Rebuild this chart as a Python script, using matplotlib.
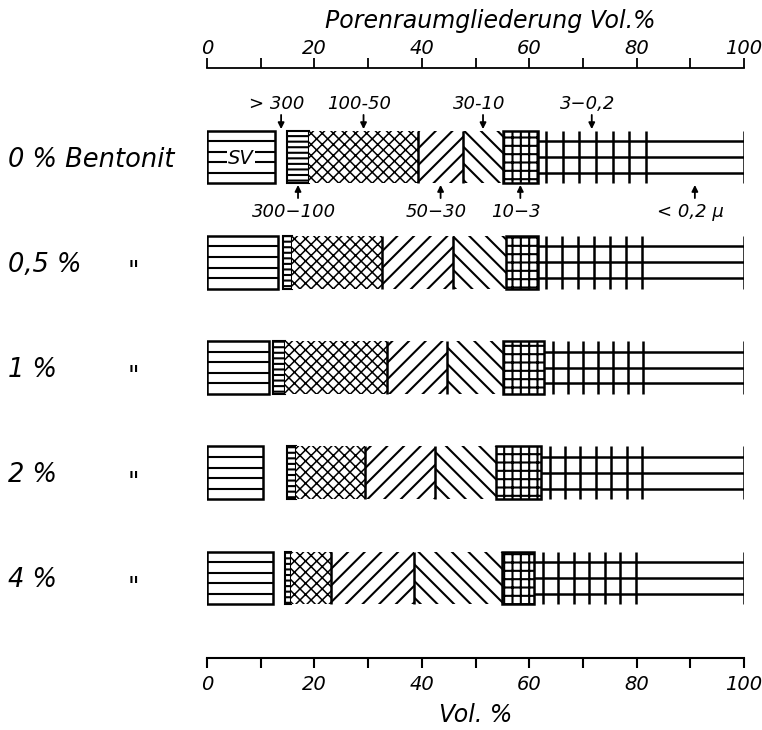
import numpy as np
import matplotlib.pyplot as plt
import matplotlib.transforms as mtransforms
from matplotlib.patches import Rectangle

# Porenraumgliederung (Vol.%) per Bentonit-Zusatz, classes in micron
rows = ["0 % Bentonit", "0,5 %", "1 %", "2 %", "4 %"]
ditto = [False, True, True, True, True]

sv = [12.7, 13.2, 11.5, 10.4, 12.2]          # SV
p_gt300 = [2.2, 1.0, 0.8, 4.5, 2.4]           # > 300
p300_100 = [4.1, 1.6, 2.2, 1.7, 1.0]          # 300-100
p100_50 = [20.3, 16.8, 19.0, 12.8, 7.5]       # 100-50
p50_30 = [8.4, 13.2, 11.2, 13.1, 15.4]        # 50-30
p30_10 = [7.4, 9.9, 10.4, 11.3, 16.4]         # 30-10
p10_3 = [6.5, 5.9, 7.7, 8.4, 6.0]             # 10-3
p3_02 = [20.1, 19.4, 18.4, 18.8, 18.9]        # 3-0,2
p_lt02 = [18.3, 19.0, 18.8, 19.0, 20.2]       # < 0,2

# class labels on the first bar
top_classes = [1, 3, 5, 7]
top_texts = ["> 300", "100-50", "30-10", "3\u22120,2"]
bottom_classes = [2, 4, 6, 8]
bottom_texts = ["300\u2212100", "50\u221230", "10\u22123", "< 0,2 \u03bc"]

plt.rcParams['font.family'] = 'DejaVu Sans'
plt.rcParams['font.style'] = 'italic'
plt.rcParams['hatch.linewidth'] = 1.5
plt.rcParams['hatch.color'] = 'black'

H = 0.5      # bar height (row units)
LW = 1.8

fig = plt.figure(figsize=(7.62, 7.30), dpi=100)
ax = fig.add_axes([207 / 762, 1 - 658 / 730, 537 / 762, 590 / 730])
ax.set_xlim(0, 100)
ax.set_ylim(4.76, -0.846)

for i in range(len(rows)):
    widths = np.array([sv[i], p_gt300[i], p300_100[i], p100_50[i], p50_30[i],
                       p30_10[i], p10_3[i], p3_02[i], p_lt02[i]])
    edges = np.concatenate([[0], np.cumsum(widths)])
    y0 = i - H / 2

    # SV: box with horizontal bands
    ax.add_patch(Rectangle((edges[0], y0), widths[0], H, fc='white', ec='k', lw=LW, zorder=2))
    ax.hlines(i + H * np.array([-0.3, -0.1, 0.1, 0.3]), edges[0], edges[1], colors='k', lw=1.5, zorder=2)

    # 300-100: fine horizontal lines, framed
    ax.add_patch(Rectangle((edges[2], y0), widths[2], H, fc='white', ec='k', lw=1.5,
                           hatch='---', zorder=2))
    # 100-50: cross hatch (a bit thinner lines so the diamonds stay open)
    with plt.rc_context({'hatch.linewidth': 1.1}):
        ax.add_patch(Rectangle((edges[3], y0), widths[3], H, fc='white', ec='k', lw=0,
                               hatch='xxx', zorder=2))
    # 50-30 and 30-10: chevron
    ax.add_patch(Rectangle((edges[4], y0), widths[4], H, fc='white', ec='k', lw=0,
                           hatch='//', zorder=2))
    ax.add_patch(Rectangle((edges[5], y0), widths[5], H, fc='white', ec='k', lw=0,
                           hatch='\\\\', zorder=2))
    ax.vlines([edges[4], edges[5]], y0, y0 + H, colors='k', lw=LW, zorder=3)
    # 10-3: grid, framed
    ax.add_patch(Rectangle((edges[6], y0), widths[6], H, fc='white', ec='k', lw=LW,
                           hatch='++', zorder=3))
    # 3-0,2 and < 0,2: open lines
    ax.hlines(i + H * np.array([-0.3, 0.0, 0.3]), edges[7], edges[9], colors='k', lw=LW, zorder=2)
    ax.vlines(np.linspace(edges[7] + 1.6, edges[8], 7), y0, y0 + H, colors='k', lw=LW, zorder=2)
    ax.vlines(edges[9], y0, y0 + H, colors='k', lw=LW, zorder=2)

    if i == 0:
        ax.text(widths[0] / 2, i + 0.01, "SV", ha='center', va='center', fontsize=14,
                bbox=dict(fc='white', ec='none', pad=0.5), zorder=4)
        mids = (edges[:-1] + edges[1:]) / 2
        for k, t in zip(top_classes, top_texts):
            ax.text(mids[k] - 0.8, -0.50, t, ha='center', va='center', fontsize=13)
            ax.annotate('', xy=(mids[k], -0.265), xytext=(mids[k], -0.40),
                        arrowprops=dict(arrowstyle='-|>', color='k', lw=1.3,
                                        mutation_scale=9, shrinkA=0, shrinkB=0))
        for k, t in zip(bottom_classes, bottom_texts):
            ax.text(mids[k] - 0.8, 0.52, t, ha='center', va='center', fontsize=13)
            ax.annotate('', xy=(mids[k], 0.265), xytext=(mids[k], 0.39),
                        arrowprops=dict(arrowstyle='-|>', color='k', lw=1.3,
                                        mutation_scale=9, shrinkA=0, shrinkB=0))

# row labels
trans = mtransforms.blended_transform_factory(fig.transFigure, ax.transData)
for i, lab in enumerate(rows):
    ax.text(0.011, i + 0.09, lab, transform=trans, ha='left', va='baseline', fontsize=18.5)
    if ditto[i]:
        ax.text(0.168, i + 0.15, '"', transform=trans, ha='left', va='baseline', fontsize=18)

# scales
ax.spines[['left', 'right', 'top']].set_visible(False)
ax.spines['bottom'].set_linewidth(1.5)
ax.set_yticks([])
ax.set_xticks(np.arange(0, 101, 20))
ax.set_xticks(np.arange(10, 100, 20), minor=True)
ax.tick_params(axis='x', which='both', direction='out', length=7, width=1.5)
ax.tick_params(axis='x', which='major', labelsize=14, pad=5)

top = ax.secondary_xaxis('top')
top.set_xticks(np.arange(0, 101, 20))
top.set_xticks(np.arange(10, 100, 20), minor=True)
top.spines['top'].set_linewidth(1.3)
top.tick_params(axis='x', which='both', direction='out', length=7, width=1.3)
top.tick_params(axis='x', which='major', labelsize=14, pad=0)

fig.text(490 / 762, 1 - 21 / 730, "Porenraumgliederung Vol.%", ha='center', va='center', fontsize=17)
fig.text(476 / 762, 1 - 715 / 730, "Vol. %", ha='center', va='center', fontsize=17)

fig.savefig("out.png", dpi=100)
